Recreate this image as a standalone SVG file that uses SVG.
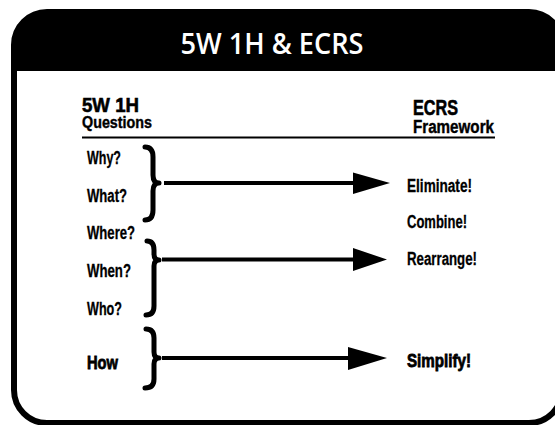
<svg xmlns="http://www.w3.org/2000/svg" width="555" height="425" viewBox="0 0 555 425">
<style>
.t{font-family:"Liberation Sans",Arial,sans-serif;font-weight:bold;fill:#000;stroke:#000;stroke-width:0.3}
.q{font-size:18px}
.b{font-size:18.5px;stroke-width:0.8}
.h1{font-size:20.5px;stroke-width:0.6}
.h2{font-size:16.5px;stroke-width:0.4}
.h3{font-size:21.5px;stroke-width:0.6}
.h4{font-size:18px;stroke-width:0.4}
.brace{fill:none;stroke:#000;stroke-width:5;stroke-linecap:round;stroke-linejoin:round}
.con{stroke:#000;stroke-width:4}
</style>
<defs>
<clipPath id="frameClip"><rect x="14" y="12" width="548" height="411" rx="33" ry="33"/></clipPath>
</defs>
<g id="frame">
<rect x="14" y="12" width="548" height="411" rx="33" ry="33" fill="#fff" stroke="#000" stroke-width="6"/>
<rect x="0" y="0" width="570" height="71" fill="#000" clip-path="url(#frameClip)"/>
<text x="272" y="54" text-anchor="middle" font-family="'Open Sans','DejaVu Sans',sans-serif" font-weight="600" font-size="28" fill="#fff" textLength="183" lengthAdjust="spacingAndGlyphs">5W 1H &amp; ECRS</text>
</g>
<g id="headers">
<text class="t h1" x="82" y="112" textLength="57" lengthAdjust="spacingAndGlyphs">5W 1H</text>
<text class="t h2" x="82" y="128" textLength="70" lengthAdjust="spacingAndGlyphs">Questions</text>
<text class="t h3" x="413" y="115" textLength="45" lengthAdjust="spacingAndGlyphs">ECRS</text>
<text class="t h4" x="413" y="133" textLength="81" lengthAdjust="spacingAndGlyphs">Framework</text>
<line x1="82" y1="137.5" x2="495" y2="137.5" stroke="#000" stroke-width="2"/>
</g>
<g id="questions">
<text class="t q" x="87" y="163.5" textLength="34" lengthAdjust="spacingAndGlyphs">Why?</text>
<text class="t q" x="87" y="202" textLength="40" lengthAdjust="spacingAndGlyphs">What?</text>
<text class="t q" x="87" y="239" textLength="48" lengthAdjust="spacingAndGlyphs">Where?</text>
<text class="t q" x="87" y="277" textLength="44" lengthAdjust="spacingAndGlyphs">When?</text>
<text class="t q" x="87" y="315" textLength="35" lengthAdjust="spacingAndGlyphs">Who?</text>
<text class="t b" x="87" y="369" textLength="31" lengthAdjust="spacingAndGlyphs">How</text>
</g>
<g id="ecrs">
<text class="t q" x="407" y="192" textLength="65" lengthAdjust="spacingAndGlyphs">Eliminate!</text>
<text class="t q" x="407" y="228" textLength="60" lengthAdjust="spacingAndGlyphs">Combine!</text>
<text class="t q" x="407" y="265" textLength="70" lengthAdjust="spacingAndGlyphs">Rearrange!</text>
<text class="t b" x="407" y="367" textLength="64" lengthAdjust="spacingAndGlyphs">Simplify!</text>
</g>
<g id="braces">
<path class="brace" d="M145,147 Q153,147 153,157 L153,175 Q153,183 159,183 Q153,183 153,191 L153,210 Q153,220 145,220"/>
<path class="brace" d="M147,241 Q154,241 154,250 L154,254 Q154,260 159,260 Q154,260 154,266 L154,306 Q154,315 146,315"/>
<path class="brace" d="M146,329 Q154,329 154,338 L154,352 Q154,358 159,358 Q154,358 154,364 L154,379 Q154,388 145,388"/>
</g>
<g id="connectors">
<line class="con" x1="164" y1="183" x2="355" y2="183"/>
<polygon points="353,172.5 390,183 353,194"/>
<line class="con" x1="162" y1="259.5" x2="355" y2="259.5"/>
<polygon points="353,248 387,259.5 353,271"/>
<line class="con" x1="162" y1="358" x2="350" y2="358"/>
<polygon points="348,347 387,358 348,370"/>
</g>
</svg>
